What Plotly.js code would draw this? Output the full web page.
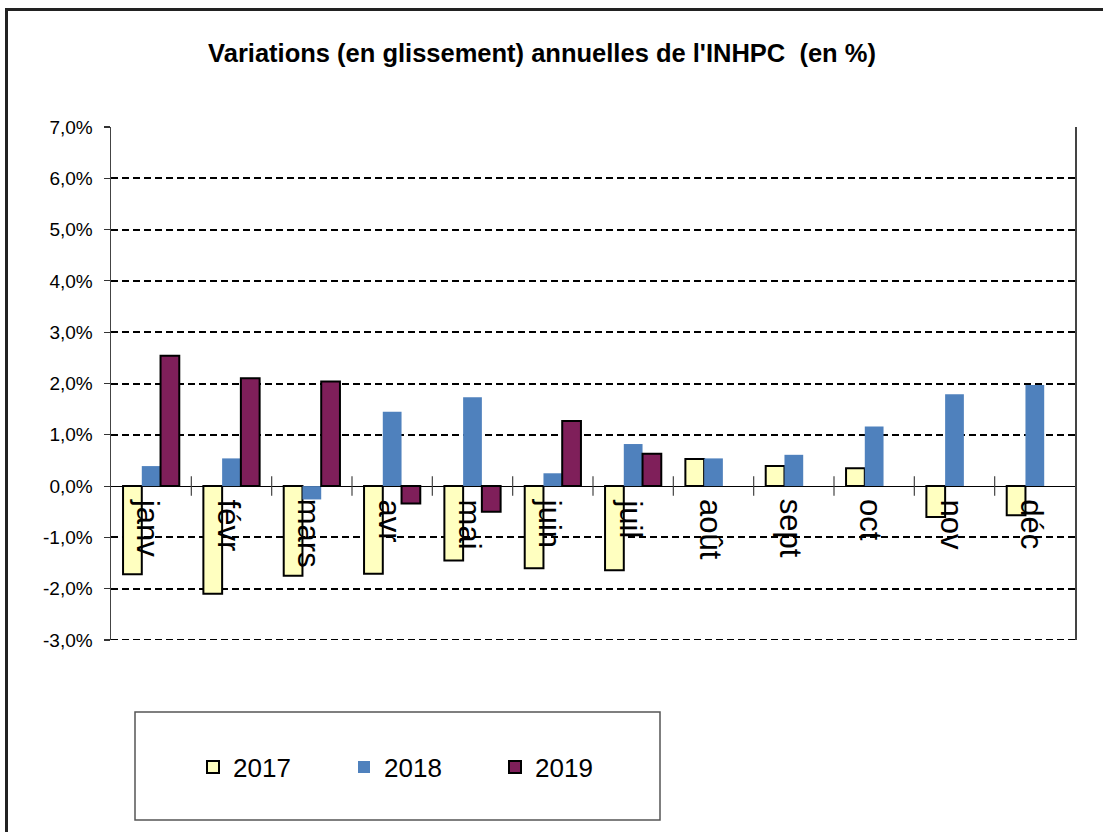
<!DOCTYPE html>
<html>
<head>
<meta charset="utf-8">
<script src="https://cdn.plot.ly/plotly-3.0.1.min.js"></script>
<style>
  html, body { margin: 0; padding: 0; overflow: hidden; background: #fff; }
  #chart { width: 1103px; height: 832px; position: absolute; left: 0; top: 0; }
  #frame { position: absolute; left: 5px; top: 8px; width: 1120px; height: 860px;
           border: 3px solid #222; pointer-events: none; box-sizing: border-box; }
</style>
</head>
<body>
<div id="chart"></div>
<div id="frame"></div>
<script>
// ---- data ----
const months = ['janv', 'févr', 'mars', 'avr', 'mai', 'juin', 'juil', 'août', 'sept', 'oct', 'nov', 'déc'];
const seriesNames = ['2017', '2018', '2019'];
const v2017 = [-1.72, -2.10, -1.75, -1.71, -1.45, -1.60, -1.64, 0.53, 0.39, 0.35, -0.60, -0.57];
const v2018 = [0.39, 0.54, -0.26, 1.45, 1.73, 0.25, 0.82, 0.54, 0.61, 1.16, 1.79, 1.97];
const v2019 = [2.54, 2.10, 2.04, -0.34, -0.50, 1.27, 0.63, null, null, null, null, null];
const yTickVals = [-3, -2, -1, 0, 1, 2, 3, 4, 5, 6, 7];
const yTickText = ['-3,0%', '-2,0%', '-1,0%', '0,0%', '1,0%', '2,0%', '3,0%', '4,0%', '5,0%', '6,0%', '7,0%'];
const titleText = "Variations (en glissement) annuelles de l'INHPC  (en %)";

const FONT = 'Liberation Sans, Arial, sans-serif';
const GRID_DASH = '7px,4px';

const traces = [
  { type: 'bar', name: seriesNames[0], x: months, y: v2017,
    marker: { color: '#FFFFC0', line: { color: '#000', width: 2 } } },
  { type: 'bar', name: seriesNames[1], x: months, y: v2018,
    marker: { color: '#4F81BD', line: { color: '#4F81BD', width: 0 } } },
  { type: 'bar', name: seriesNames[2], x: months, y: v2019,
    marker: { color: '#7F1F5A', line: { color: '#000', width: 2 } } }
];

// category labels drawn at the zero line, rotated
const annotations = months.map(m => ({
  x: m, y: 0, xref: 'x', yref: 'y', text: m, showarrow: false,
  textangle: 90, xanchor: 'center', yanchor: 'top', yshift: -11, xshift: -3,
  font: { family: FONT, size: 31, color: '#000' }
}));

// small tick marks crossing the zero line between categories
const shapes = [];
for (let i = 0; i < months.length - 1; i++) {
  shapes.push({ type: 'line', xref: 'x', yref: 'y', x0: i + 0.5, x1: i + 0.5, y0: -0.19, y1: 0.19,
                line: { color: '#444', width: 1.2 }, layer: 'above' });
}
// bottom gridline (at the lower range edge)
shapes.push({ type: 'line', xref: 'paper', yref: 'y', x0: 0, x1: 1, y0: yTickVals[0], y1: yTickVals[0],
              line: { color: '#000', width: 2, dash: GRID_DASH }, layer: 'below' });
// legend frame
shapes.push({ type: 'rect', xref: 'paper', yref: 'paper',
  x0: (135 - 111) / 964, x1: (660 - 111) / 964, y0: (640 - 712) / 513, y1: (640 - 820) / 513,
  line: { color: '#555', width: 1.5 }, fillcolor: 'rgba(0,0,0,0)', layer: 'below' });

const layout = {
  width: 1103, height: 832,
  margin: { l: 111, r: 28, t: 127, b: 192, pad: 0 },
  paper_bgcolor: '#fff', plot_bgcolor: '#fff',
  font: { family: FONT, color: '#000' },
  title: { text: titleText, xref: 'container', yref: 'container', x: 0.4914, y: 1 - 53 / 832,
           xanchor: 'center', yanchor: 'middle',
           font: { family: FONT, size: 25.5, weight: 'bold', color: '#000' } },
  barmode: 'group', bargap: 0.30, bargroupgap: 0,
  xaxis: { type: 'category', range: [-0.5, 11.5], showticklabels: false, showgrid: false,
           zeroline: false, showline: false, ticks: '' },
  yaxis: { range: [-3, 7], tickvals: yTickVals, ticktext: yTickText, showgrid: true,
           gridcolor: '#000', griddash: GRID_DASH, gridwidth: 2,
           zeroline: true, zerolinecolor: '#000', zerolinewidth: 1,
           showline: true, linecolor: '#444', linewidth: 1.5, mirror: true,
           ticks: 'outside', ticklen: 6, tickcolor: '#333', tickwidth: 1.2, ticklabelstandoff: 7,
           tickfont: { family: FONT, size: 19, color: '#000' } },
  showlegend: true,
  legend: { orientation: 'h', x: (193 - 111) / 964, xanchor: 'left', y: (640 - 767) / 513, yanchor: 'middle',
            entrywidth: 106, entrywidthmode: 'pixels', bgcolor: 'rgba(0,0,0,0)', borderwidth: 0,
            font: { family: FONT, size: 26, color: '#000' }, traceorder: 'normal' },
  annotations: annotations,
  shapes: shapes
};

Plotly.newPlot('chart', traces, layout, { displayModeBar: false, staticPlot: true });
</script>
</body>
</html>
